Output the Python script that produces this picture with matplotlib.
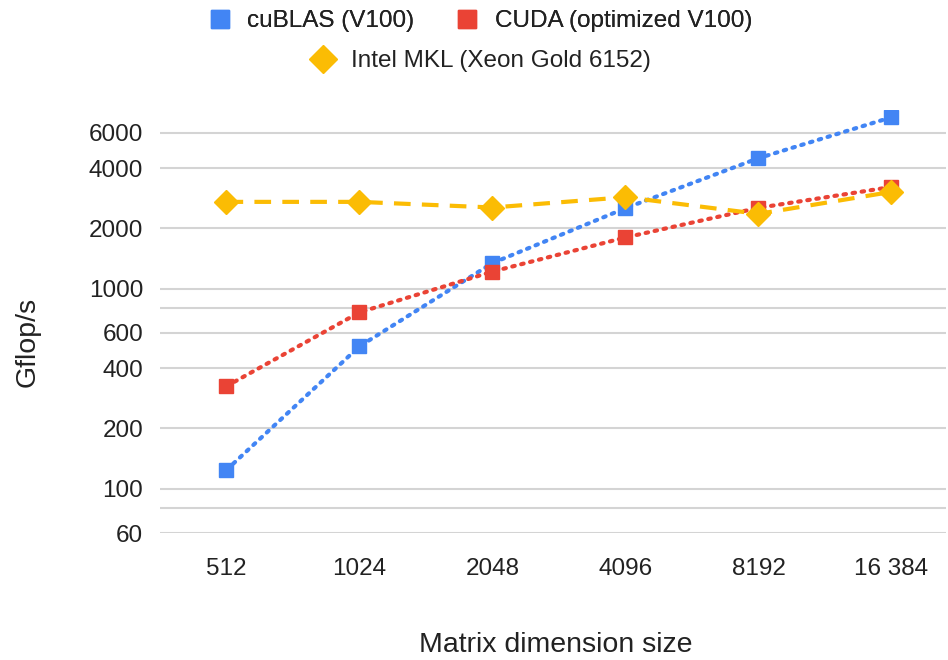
import matplotlib
matplotlib.use("Agg")
import matplotlib.pyplot as plt
from matplotlib.lines import Line2D
from matplotlib.ticker import FixedLocator, NullLocator

plt.rcParams['font.family'] = ['Liberation Sans', 'DejaVu Sans']

categories = ["512", "1024", "2048", "4096", "8192", "16 384"]
cublas = [124, 514, 1340, 2520, 4480, 7175]
cuda = [325, 760, 1215, 1800, 2530, 3217]
mkl = [2710, 2710, 2540, 2860, 2361, 3040]

y_labeled = [60, 100, 200, 400, 600, 1000, 2000, 4000, 6000]
y_grid = [60, 80, 100, 200, 400, 600, 800, 1000, 2000, 4000, 6000]

BLUE = "#4285F4"
RED = "#EA4335"
YEL = "#FBBC04"
TXT = "#222222"

fig = plt.figure(figsize=(9.48, 6.6), dpi=100)
ax = fig.add_axes([160/948, 1-533/660, (946-160)/948, (533-110)/660])

x = list(range(len(categories)))
ax.plot(x, cublas, color=BLUE, lw=3, ls=(0, (0.6, 1.6)), dash_capstyle='round',
        marker='s', ms=10, mec=BLUE, mfc=BLUE, zorder=3)
ax.plot(x, cuda, color=RED, lw=3, ls=(0, (0.6, 1.6)), dash_capstyle='round',
        marker='s', ms=10, mec=RED, mfc=RED, zorder=3)
ax.plot(x, mkl, color=YEL, lw=3, ls=(0, (4, 2.7)),
        marker='D', ms=12, mec=YEL, mfc=YEL, zorder=4)

ax.set_yscale('log')
ax.set_ylim(60, 7800)
ax.set_xlim(-0.5, 5.41)
ax.yaxis.set_major_locator(FixedLocator(y_labeled))
ax.yaxis.set_minor_locator(NullLocator())
ax.set_yticklabels([str(v) for v in y_labeled])
for v in y_grid:
    ax.axhline(v, color='#d4d4d4', lw=1.5, zorder=1)
ax.set_xticks(x)
ax.set_xticklabels(categories)
ax.tick_params(axis='both', length=0, labelsize=17.5, colors=TXT)
ax.tick_params(axis='x', pad=18)
ax.tick_params(axis='y', pad=12)
for s in ax.spines.values():
    s.set_visible(False)

fig.text(28/948, 1-342/660, "Gflop/s", rotation=90, ha='center', va='center',
         fontsize=20.5, color=TXT)
fig.text(556/948, 1-645/660, "Matrix dimension size", ha='center', va='center',
         fontsize=20.5, color=TXT)

h1 = Line2D([], [], color=BLUE, marker='s', ms=13, ls='none')
h2 = Line2D([], [], color=RED, marker='s', ms=13, ls='none')
h3 = Line2D([], [], color=YEL, marker='D', ms=14, ls='none')
leg1 = fig.legend([h1, h2], ["cuBLAS (V100)", "CUDA (optimized V100)"], ncol=2,
                  loc='center', bbox_to_anchor=(481/948, 1-21/660), frameon=False,
                  fontsize=17.5, handletextpad=0.75, columnspacing=1.75, handlelength=0.8,
                  borderpad=0, borderaxespad=0)
fig.add_artist(leg1)
leg2 = fig.legend([h3], ["Intel MKL (Xeon Gold 6152)"], loc='center',
                  bbox_to_anchor=(482/948, 1-61/660), frameon=False,
                  fontsize=17.5, handletextpad=0.75, handlelength=0.8,
                  borderpad=0, borderaxespad=0)
for lg in (leg1, leg2):
    for t in lg.get_texts():
        t.set_color(TXT)

fig.savefig("out.png", dpi=100)
